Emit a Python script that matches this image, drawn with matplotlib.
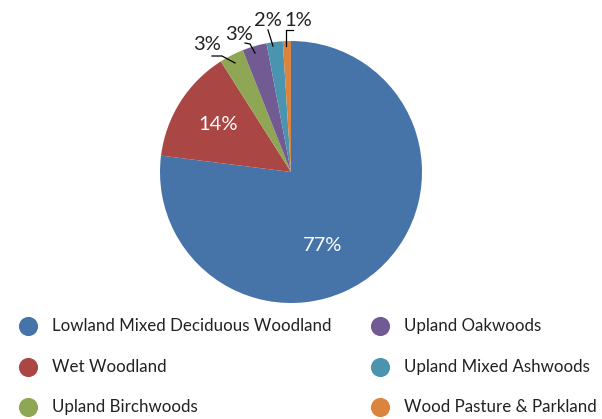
import matplotlib
matplotlib.use("Agg")
import matplotlib.pyplot as plt
import numpy as np

categories = ["Lowland Mixed Deciduous Woodland", "Wet Woodland", "Upland Birchwoods",
              "Upland Oakwoods", "Upland Mixed Ashwoods", "Wood Pasture & Parkland"]
values = [77, 14, 3, 3, 2, 1]
labels = ["77%", "14%", "3%", "3%", "2%", "1%"]
colors = ["#4674A8", "#AA4643", "#8FA654", "#725A93", "#4A94B0", "#DB843D"]

plt.rcParams['font.family'] = ['Lato', 'DejaVu Sans']

W, H = 602, 419
fig = plt.figure(figsize=(W / 100, H / 100), dpi=100)
cx, cy, r = 291, 172, 131
ax = fig.add_axes([(cx - r) / W, (H - cy - r) / H, 2 * r / W, 2 * r / H])
wedges, _ = ax.pie(values, colors=colors, startangle=90, counterclock=False,
                   radius=1, wedgeprops=dict(linewidth=0))
ax.set_xlim(-1, 1)
ax.set_ylim(-1, 1)
ax.set_aspect('equal')
ax.axis('off')

def px(x, y):
    return ((x - cx) / r, (cy - y) / r)

# inside labels
inside_pos = [(323, 245), (218, 124)]
for i, (x, y) in enumerate(inside_pos):
    ax.text(*px(x, y), labels[i], color='white', fontsize=14.5,
            ha='center', va='center')

# outside labels with leader lines
outside_pos = [(207, 45), (239, 35), (268, 20), (298, 20)]
leaders = [
    [(235, 63), (222, 56), (212, 56)],
    [(255, 53), (250, 44), (245, 43)],
    [(273, 46), (268, 30)],
    [(286, 46), (286, 30), (293, 30)],
]
for k, ((x, y), pts) in enumerate(zip(outside_pos, leaders)):
    i = k + 2
    ax.text(*px(x, y), labels[i], color='#222222', fontsize=14.5,
            ha='center', va='center')
    xs, ys = zip(*[px(a, b) for a, b in pts])
    ax.plot(xs, ys, color='black', linewidth=0.9, clip_on=False)

# legend
lax = fig.add_axes([0, 0, 1, 1])
lax.set_xlim(0, W)
lax.set_ylim(H, 0)
lax.axis('off')
col_x = [28, 380]
row_y = [326, 367, 407]
for i, cat in enumerate(categories):
    c, rw = divmod(i, 3)
    lax.scatter([col_x[c]], [row_y[rw]], s=190, color=colors[i], linewidths=0)
    lax.text(col_x[c] + 24, row_y[rw], cat, fontsize=12.2,
             color='#222222', va='center', ha='left')

fig.savefig("out.png", dpi=100)
